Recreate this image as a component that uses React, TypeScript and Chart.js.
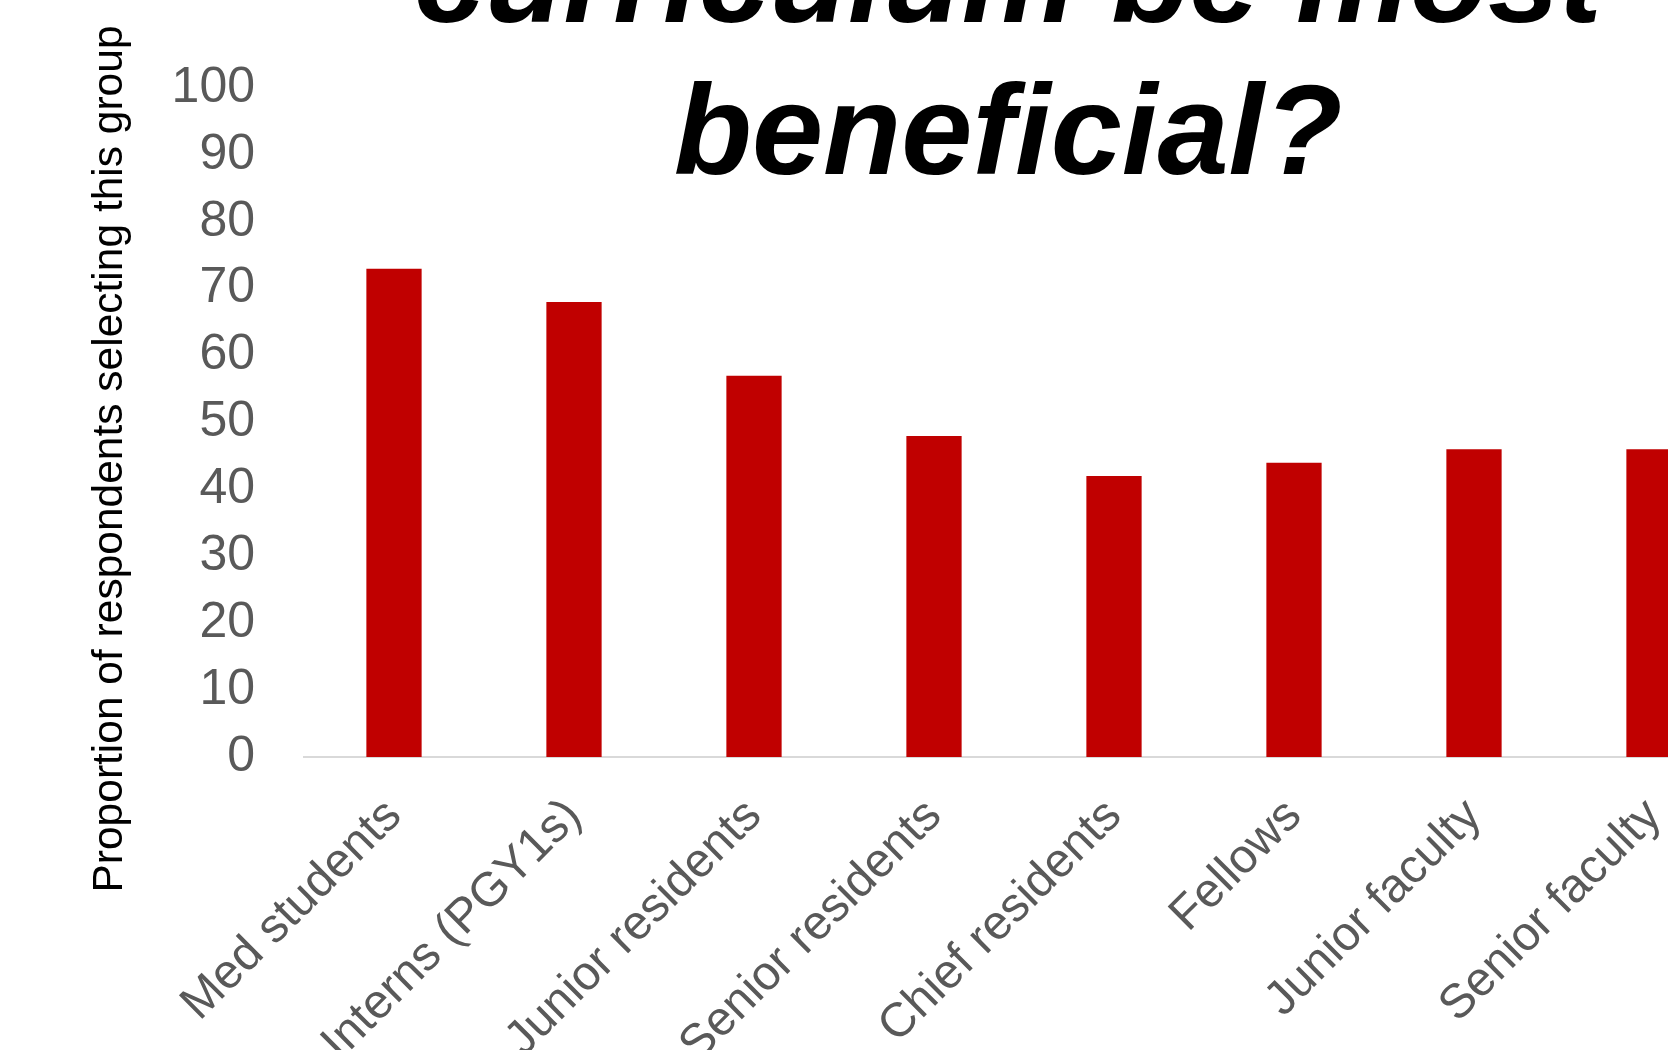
import React, { useEffect, useRef } from "react";
import { Chart, registerables } from "chart.js";

Chart.register(...registerables);

const CATEGORIES = [
  "Med students",
  "Interns (PGY1s)",
  "Junior residents",
  "Senior residents",
  "Chief residents",
  "Fellows",
  "Junior faculty",
  "Senior faculty",
];
const VALUES = [73, 68, 57, 48, 42, 44, 46, 46];
const Y_MIN = 0;
const Y_MAX = 100;
const Y_STEP = 10;
const TITLE_LINES = ["curriculum be most", "beneficial?"];
const Y_AXIS_TITLE = "Proportion of respondents selecting this group";

const FONT = '"Liberation Sans", Arial, Helvetica, sans-serif';

const slideTitle = {
  id: "slideTitle",
  afterDraw(chart: any) {
    const ctx = chart.ctx;
    ctx.save();
    ctx.font = `italic bold 128px ${FONT}`;
    ctx.fillStyle = "#000000";
    ctx.textAlign = "center";
    ctx.textBaseline = "alphabetic";
    const cx = chart.width / 2;
    TITLE_LINES.forEach((line, i) => ctx.fillText(line, cx, 22 + i * 152));
    ctx.restore();
  },
};

const yAxisTitle = {
  id: "yAxisTitle",
  afterDraw(chart: any) {
    const ctx = chart.ctx;
    const a = chart.chartArea;
    ctx.save();
    ctx.translate(a.left - 194, a.bottom - 298);
    ctx.rotate(-Math.PI / 2);
    ctx.font = `42.5px ${FONT}`;
    ctx.fillStyle = "#000000";
    ctx.textAlign = "center";
    ctx.textBaseline = "middle";
    ctx.fillText(Y_AXIS_TITLE, 0, 0);
    ctx.restore();
  },
};

export default function App() {
  const ref = useRef<HTMLCanvasElement | null>(null);

  useEffect(() => {
    if (!ref.current) return;
    const chart = new Chart(ref.current, {
      type: "bar",
      data: {
        labels: CATEGORIES,
        datasets: [
          {
            data: VALUES,
            backgroundColor: "#C00000",
            borderWidth: 0,
            barPercentage: 0.307,
            categoryPercentage: 1,
          },
        ],
      },
      options: {
        responsive: false,
        animation: false,
        devicePixelRatio: 1,
        layout: { padding: { left: 170, right: 272, top: 88, bottom: 0 } },
        plugins: {
          legend: { display: false },
          tooltip: { enabled: false },
          title: { display: false },
        },
        scales: {
          x: {
            grid: { display: false, drawTicks: false },
            border: { display: true, color: "#D9D9D9", width: 2 },
            ticks: {
              color: "#595959",
              font: { family: FONT, size: 48 },
              minRotation: 45,
              maxRotation: 45,
              autoSkip: false,
              padding: 31,
            },
            afterFit: (s: any) => {
              s.height = 293;
            },
          },
          y: {
            min: Y_MIN,
            max: Y_MAX,
            grid: { display: false, drawTicks: false },
            border: { display: false },
            ticks: {
              stepSize: Y_STEP,
              color: "#595959",
              font: { family: FONT, size: 50 },
              padding: 49,
            },
            afterFit: (s: any) => {
              s.width = 134;
            },
          },
        },
      },
      plugins: [slideTitle, yAxisTitle],
    });
    return () => chart.destroy();
  }, []);

  return (
    <div
      style={{
        position: "fixed",
        left: 0,
        top: 0,
        width: 1668,
        height: 1050,
        overflow: "hidden",
        background: "#ffffff",
      }}
    >
      <canvas ref={ref} width={2016} height={1050} style={{ display: "block" }} />
    </div>
  );
}
